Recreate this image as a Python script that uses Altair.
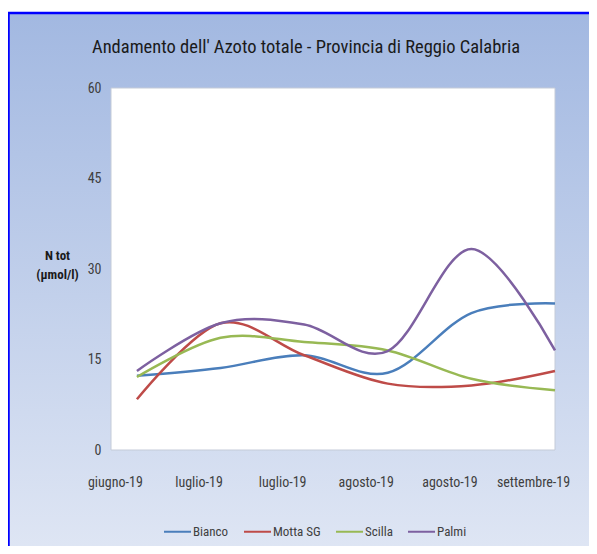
import altair as alt
import pandas as pd

months = ["giugno-19", "luglio-19", "luglio-19", "agosto-19", "agosto-19", "settembre-19"]
series = ["Bianco", "Motta SG", "Scilla", "Palmi"]
bianco = [12.3, 13.6, 15.7, 12.8, 22.7, 24.3]
motta = [8.4, 21.0, 15.7, 11.0, 10.7, 13.1]
scilla = [12.1, 18.6, 17.9, 16.5, 11.8, 9.9]
palmi = [13.1, 21.0, 20.8, 16.4, 33.3, 16.5]
colors = ["#4a7ebb", "#be4b48", "#98b954", "#7d60a0"]
title_text = "Andamento dell' Azoto totale - Provincia di Reggio Calabria"

rows = []
for name, vals in zip(series, [bianco, motta, scilla, palmi]):
    for i, v in enumerate(vals):
        rows.append({"serie": name, "idx": i, "val": v})
df = pd.DataFrame(rows)

W, H = 444, 362
PL, PT, PR, PB = 103, 80, 34, 96
FONT = "'Roboto Condensed', 'DejaVu Sans Condensed', Lato, sans-serif"

one = alt.Data(values=[{"a": 1}])

bg = alt.Chart(one).mark_rect(
    fill=alt.Gradient(
        gradient="linear",
        stops=[alt.GradientStop(color="#a2b8e1", offset=0),
               alt.GradientStop(color="#dfe6f4", offset=1)],
        x1=0, x2=0, y1=0, y2=1),
).encode(x=alt.value(-PL), x2=alt.value(W + PR + 8), y=alt.value(-76), y2=alt.value(H + PB + 8))

border_top = alt.Chart(one).mark_rule(color="#0000ff", strokeWidth=2.5).encode(
    x=alt.value(-PL), x2=alt.value(W + PR + 8), y=alt.value(-75))
border_left = alt.Chart(one).mark_rule(color="#0000ff", strokeWidth=2.5).encode(
    x=alt.value(-PL + 0.5), y=alt.value(-76), y2=alt.value(H + PB + 8))

plot_bg = alt.Chart(one).mark_rect(
    fill="white", stroke="#c4cbd8", strokeWidth=1
).encode(x=alt.value(0), x2=alt.value(W), y=alt.value(0), y2=alt.value(H))

title = alt.Chart(one).mark_text(
    font=FONT, fontSize=18.5, color="#1a1a1a", align="center", baseline="middle"
).encode(x=alt.value(W / 2 - 27), y=alt.value(-41), text=alt.value(title_text))

label_expr = "[" + ",".join("'%s'" % m for m in months) + "][datum.value]"

lines = alt.Chart(df).mark_line(interpolate="cardinal", strokeWidth=2.5).encode(
    x=alt.X("idx:Q", scale=alt.Scale(domain=[-0.31, 5.0], nice=False, zero=False),
            axis=alt.Axis(values=list(range(6)), labelExpr=label_expr, title=None,
                          domain=False, ticks=False, grid=False, labelPadding=25,
                          labelOffset=-22, labelFont=FONT, labelFontSize=14,
                          labelColor="#404040", zindex=1, labelFlush=False)),
    y=alt.Y("val:Q", scale=alt.Scale(domain=[0, 60], nice=False),
            axis=alt.Axis(values=[0, 15, 30, 45, 60], title=["N tot", "(µmol/l)"],
                          titleAngle=0, titleX=-54, titleY=161, titleAlign="center",
                          titleBaseline="top", titleFont=FONT, titleFontSize=13,
                          titleFontWeight="bold", titleColor="#1a1a1a", titleLineHeight=19,
                          domain=False, ticks=False, grid=False, labelPadding=10,
                          labelFont=FONT, labelFontSize=14, labelColor="#404040",
                          zindex=1)),
    color=alt.Color("serie:N", scale=alt.Scale(domain=series, range=colors),
                    sort=series,
                    legend=alt.Legend(title=None, orient="none", direction="horizontal",
                                      legendX=52, legendY=429, symbolType="stroke",
                                      symbolSize=729, symbolStrokeWidth=2,
                                      labelFont=FONT, labelFontSize=13,
                                      labelColor="#404040", columnPadding=11,
                                      labelOffset=1, zindex=1)),
    detail="serie:N",
)

chart = alt.layer(bg, border_top, border_left, plot_bg, lines, title).properties(
    width=W, height=H,
    padding={"left": PL, "top": PT, "right": PR, "bottom": PB},
    autosize=alt.AutoSizeParams(type="none"),
).configure_view(stroke=None, fill=None)

chart.save("out.html", embed_options={"renderer": "svg", "actions": False})
